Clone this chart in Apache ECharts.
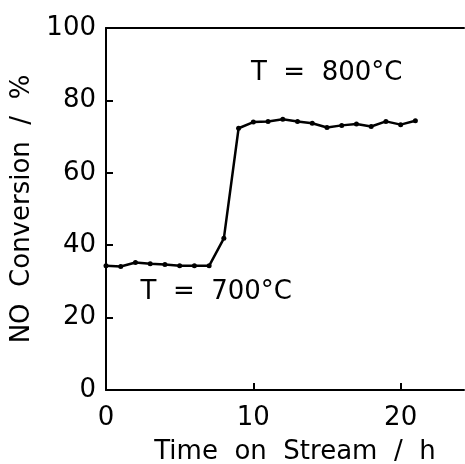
<!DOCTYPE html>
<html>
<head>
<meta charset="utf-8">
<script src="https://cdn.jsdelivr.net/npm/echarts@6/dist/echarts.min.js"></script>
<style>
  html, body { margin: 0; padding: 0; background: #fff; }
  #chart { width: 465px; height: 464px; }
</style>
</head>
<body>
<div id="chart"></div>
<script>
// time on stream (h) and NO conversion (%)
var hours = [0, 1, 2, 3, 4, 5, 6, 7, 8, 9, 10, 11, 12, 13, 14, 15, 16, 17, 18, 19, 20, 21];
var conversion = [34.3, 34.1, 35.2, 34.9, 34.7, 34.3, 34.3, 34.3, 41.9, 72.3, 74.0, 74.2, 74.8, 74.2, 73.7, 72.5, 73.1, 73.5, 72.8, 74.2, 73.3, 74.4];
var xTicks = [0, 10, 20];
var yTicks = [0, 20, 40, 60, 80, 100];
var labels = [
  { text: 'T  =  800°C', x: 9.5, y: 87.5 },
  { text: 'T  =  700°C', x: 2.0, y: 27 }
];

var font = 'DejaVu Sans';
var chart = echarts.init(document.getElementById('chart'));

var option = {
  animation: false,
  backgroundColor: '#fff',
  textStyle: { fontFamily: font },
  grid: { left: 106, right: 1, top: 28, bottom: 74, outerBoundsMode: 'none', containLabel: false },
  xAxis: [{
    type: 'value', min: 0, max: 24.3, interval: 10,
    name: 'Time  on  Stream  /  h', nameLocation: 'middle', nameGap: 49,
    nameTextStyle: { fontSize: 26, color: '#000', fontFamily: font, padding: [0, 0, 0, 20] },
    axisLine: { show: true, lineStyle: { color: '#000', width: 2 } },
    axisTick: { show: true, inside: true, length: 7, lineStyle: { color: '#000', width: 2 } },
    axisLabel: {
      fontSize: 26, color: '#000', margin: 15, fontFamily: font, showMaxLabel: false,
      formatter: function (v) { return xTicks.indexOf(v) >= 0 ? v : ''; }
    },
    splitLine: { show: false }
  }, {
    // top frame line only
    type: 'value', position: 'top', min: 0, max: 24.3,
    axisLine: { show: true, lineStyle: { color: '#000', width: 2 } },
    axisTick: { show: false }, axisLabel: { show: false }, splitLine: { show: false }
  }],
  yAxis: {
    type: 'value', min: 0, max: 100, interval: 20,
    name: 'NO  Conversion  /  %', nameLocation: 'middle', nameGap: 64, nameRotate: 90,
    nameTextStyle: { fontSize: 26, color: '#000', fontFamily: font },
    axisLine: { show: true, lineStyle: { color: '#000', width: 2 } },
    axisTick: { show: true, inside: true, length: 7, lineStyle: { color: '#000', width: 2 } },
    axisLabel: {
      fontSize: 26, color: '#000', margin: 10, fontFamily: font,
      formatter: function (v) { return yTicks.indexOf(v) >= 0 ? v : ''; }
    },
    splitLine: { show: false }
  },
  series: [{
    type: 'line',
    data: hours.map(function (h, i) { return [h, conversion[i]]; }),
    symbol: 'circle', symbolSize: 5, showSymbol: true,
    lineStyle: { color: '#000', width: 2.5 },
    itemStyle: { color: '#000' },
    markPoint: {
      symbol: 'circle', symbolSize: 0,
      label: { show: true, position: 'right', fontSize: 26, color: '#000', fontFamily: font,
        formatter: function (p) { return p.name; } },
      data: labels.map(function (l) { return { name: l.text, coord: [l.x, l.y] }; })
    }
  }]
};
chart.setOption(option);
</script>
</body>
</html>
